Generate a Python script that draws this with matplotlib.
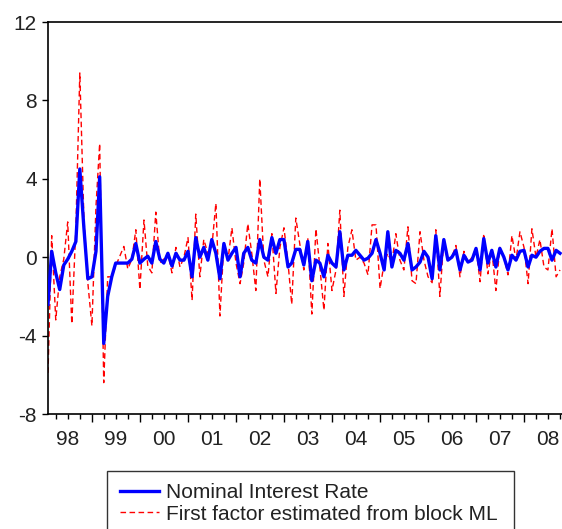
import numpy as np
import pandas as pd
import matplotlib
matplotlib.use("Agg")
import matplotlib.pyplot as plt
import matplotlib.dates as mdates

# monthly sample, Feb 1998 onwards
start_month = "1998-02-01"

nominal_rate = [
    -2.4, 0.3, -0.8, -1.65, -0.4, -0.1, 0.3, 0.8, 4.5, 1.5,
    -1.1, -1.0, 0.3, 4.1, -4.4, -2.0, -1.0, -0.3, -0.3, -0.3,
    -0.3, -0.1, 0.7, -0.3, -0.1, 0.05, -0.3, 0.8, -0.1, -0.3,
    0.2, -0.45, 0.2, -0.15, -0.15, 0.3, -1.0, 1.0, 0.0, 0.5,
    -0.15, 0.9, 0.2, -1.1, 0.7, -0.15, 0.2, 0.5, -1.0, 0.2,
    0.5, -0.15, -0.3, 0.9, 0.0, -0.15, 1.0, 0.2, 0.9, 0.9,
    -0.5, -0.3, 0.4, 0.4, -0.4, 0.8, -1.2, -0.15, -0.3, -1.0,
    0.1, -0.3, -0.5, 1.3, -0.65, 0.1, 0.1, 0.35, 0.1, -0.15,
    -0.05, 0.2, 0.9, 0.2, -0.65, 1.3, -0.5, 0.35, 0.2, -0.15,
    0.7, -0.65, -0.5, -0.25, 0.3, 0.0, -1.1, 1.1, -0.65, 0.9,
    -0.15, 0.0, 0.35, -0.65, 0.1, -0.25, -0.15, 0.45, -0.65, 0.95,
    -0.3, 0.35, -0.5, 0.45, 0.0, -0.65, 0.1, -0.15, 0.3, 0.35,
    -0.5, 0.1, 0.0, 0.3, 0.45, 0.45, -0.15, 0.35, 0.2,
]

first_factor = [
    -5.9, 1.1, -3.2, -1.0, -0.1, 1.8, -3.4, 1.5, 9.4, 2.0,
    -1.3, -3.5, 2.6, 5.8, -6.4, -1.0, -1.0, -0.45, 0.05, 0.55,
    -0.6, -0.1, 1.4, -1.65, 1.9, -0.45, -0.8, 2.3, -0.3, -0.1,
    0.2, -0.8, 0.5, -0.5, 0.0, 1.0, -2.2, 2.2, -1.0, 0.9,
    0.2, 0.5, 2.75, -3.0, 0.7, -0.15, 1.5, -0.3, -1.35, -0.3,
    1.7, 0.2, -1.7, 4.0, -0.15, -1.0, 1.2, -1.85, 0.5, 1.5,
    -0.3, -2.4, 2.0, 0.7, -0.65, 1.0, -2.9, 1.45, -0.5, -2.7,
    0.7, -1.7, -0.65, 2.4, -2.0, 0.5, 1.4, -0.15, 0.0, -0.3,
    -0.9, 1.65, 1.65, -1.6, -0.3, 0.2, -0.3, 1.2, -0.15, -0.65,
    1.55, -1.2, -1.35, 1.3, -0.15, -1.0, -1.3, 1.4, -2.0, 0.9,
    -0.15, 0.0, 0.6, -1.0, 0.3, -0.3, 0.0, 0.45, -1.25, 1.2,
    -0.85, 0.35, -1.7, 0.5, 0.0, -0.9, 1.1, -0.15, 1.3, 0.5,
    -1.35, 1.45, 0.0, 0.9, -0.5, -0.65, 1.45, -1.0, -0.65,
]

year_labels = ["98", "99", "00", "01", "02", "03", "04", "05", "06", "07", "08"]
y_ticks = [-8, -4, 0, 4, 8, 12]

dates = pd.date_range(start_month, periods=len(nominal_rate), freq="MS")

plt.rcParams["font.family"] = ["Liberation Sans", "DejaVu Sans"]
plt.rcParams["axes.unicode_minus"] = False
FS = 15

fig = plt.figure(figsize=(5.62, 5.29), dpi=100)
ax = fig.add_axes([48 / 562, 1 - 414 / 529, 1 - 48 / 562, (414 - 22) / 529])

ax.plot(dates, first_factor, color="red", lw=1.0, ls=(0, (4, 2.5)),
        label="First factor estimated from block ML", zorder=2)
ax.plot(dates, nominal_rate, color="blue", lw=2.4,
        label="Nominal Interest Rate", zorder=3)

ax.set_ylim(-8, 12)
ax.set_yticks(y_ticks)
ax.set_xlim(dates[0], pd.Timestamp("2008-10-16"))

ax.xaxis.set_major_locator(mdates.YearLocator())
ax.xaxis.set_minor_locator(mdates.MonthLocator(bymonth=[4, 7, 10]))
ax.xaxis.set_major_formatter(plt.NullFormatter())
ax.tick_params(axis="x", which="major", length=6, width=1, direction="out")
ax.tick_params(axis="x", which="minor", length=3.5, width=1, direction="out")
ax.tick_params(axis="y", length=4, width=1, direction="out", labelsize=FS,
               pad=4, labelcolor="#222222")

# year labels centred on mid-year
for k, lab in enumerate(year_labels):
    mid = pd.Timestamp(f"{1998 + k}-07-01")
    ax.text(mid, -0.04, lab, transform=ax.get_xaxis_transform(),
            ha="center", va="top", fontsize=FS, color="#222222")

for side in ["left", "bottom", "top"]:
    ax.spines[side].set_linewidth(1.2)
ax.spines["right"].set_visible(False)

handles, labels = ax.get_legend_handles_labels()
leg = fig.legend(handles[::-1], labels[::-1], loc="upper left",
                 bbox_to_anchor=(107 / 562, 1 - 471 / 529, 407 / 562, 0),
                 mode="expand", fontsize=FS, frameon=True, fancybox=False,
                 edgecolor="black", handlelength=1.9, handletextpad=0.35,
                 borderpad=0.6, labelspacing=0.1, borderaxespad=0)
leg.get_frame().set_linewidth(1.0)
for t in leg.get_texts():
    t.set_color("#222222")

fig.savefig("out.png", dpi=100)
